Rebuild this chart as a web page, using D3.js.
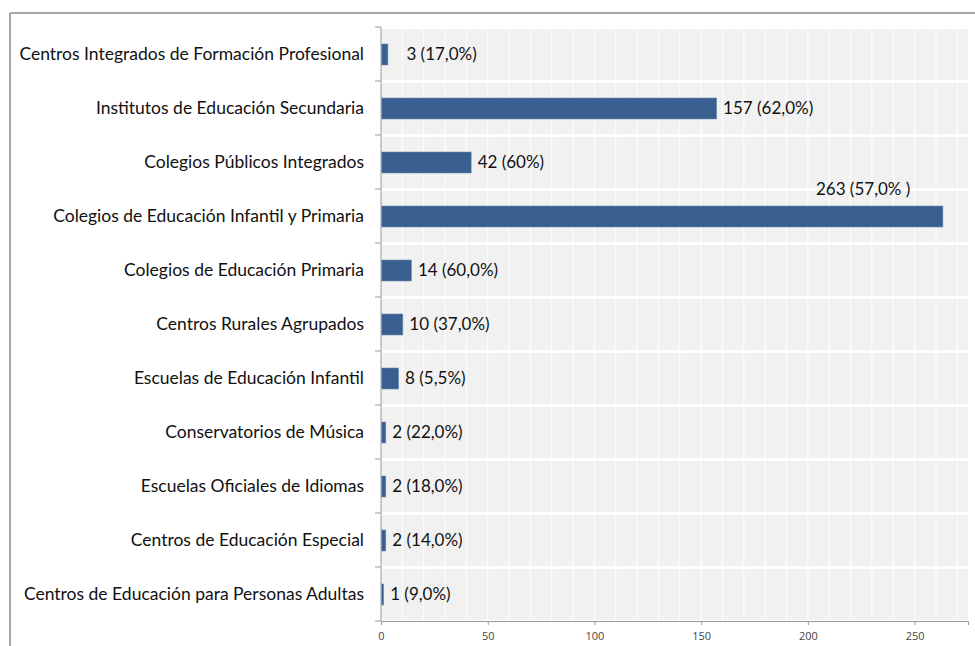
<!DOCTYPE html>
<html>
<head>
<meta charset="utf-8">
<script src="https://cdn.jsdelivr.net/npm/d3@7"></script>
<style>
body { margin: 0; background: #fff; }
svg { display: block; }
</style>
</head>
<body>
<svg id="chart" width="975" height="646"></svg>
<script>

// categories, top to bottom
var categories = [
    'Centros Integrados de Formación Profesional',
    'Institutos de Educación Secundaria',
    'Colegios Públicos Integrados',
    'Colegios de Educación Infantil y Primaria',
    'Colegios de Educación Primaria',
    'Centros Rurales Agrupados',
    'Escuelas de Educación Infantil',
    'Conservatorios de Música',
    'Escuelas Oficiales de Idiomas',
    'Centros de Educación Especial',
    'Centros de Educación para Personas Adultas'
]
var values = [3, 157, 42, 263, 14, 10, 8, 2, 2, 2, 1]
var valueLabels = [
    '3 (17,0%)', '157 (62,0%)', '42 (60%)', '263 (57,0% )', '14 (60,0%)',
    '10 (37,0%)', '8 (5,5%)', '2 (22,0%)', '2 (18,0%)', '2 (14,0%)', '1 (9,0%)'
]
var xTicks = [0, 50, 100, 150, 200, 250]

var svg = d3.select('#chart')
var font = "'Lato', 'Open Sans', sans-serif"

// frame lines
svg.append('line').attr('x1', 10).attr('x2', 975).attr('y1', 13).attr('y2', 13)
    .style('stroke', '#8a8a8a').style('stroke-width', 1.5)
svg.append('line').attr('x1', 10).attr('x2', 10).attr('y1', 13).attr('y2', 646)
    .style('stroke', '#8a8a8a').style('stroke-width', 1.5)

var x = d3.scaleLinear().domain([0, 275]).range([381, 968])
var y = d3.scaleBand().domain(categories).range([27, 621])

// gray row backgrounds
svg.selectAll('.row')
    .data(categories)
    .enter().append('rect')
    .attr('x', x(0))
    .attr('y', function(d) { return y(d) + 2; })
    .attr('width', x(275) - x(0))
    .attr('height', y.bandwidth() - 3)
    .style('fill', '#f1f1f1')

// white vertical grid lines every 10
svg.selectAll('.grid')
    .data(d3.range(10, 280, 10))
    .enter().append('line')
    .attr('x1', function(d) { return x(d); })
    .attr('x2', function(d) { return x(d); })
    .attr('y1', 27).attr('y2', 621)
    .style('stroke', '#fff').style('stroke-width', 1)

// bars
svg.selectAll('.bar')
    .data(values)
    .enter().append('rect')
    .attr('x', x(0) + 0.5)
    .attr('y', function(d, i) { return y(categories[i]) + y.bandwidth() / 2 - 10; })
    .attr('width', function(d) { return x(d) - x(0); })
    .attr('height', 21)
    .style('fill', '#385f8f')
    .style('stroke', '#6f8db0')
    .style('stroke-width', 0.6)

// value labels (the big one sits above its bar, the first one is pushed out a bit)
svg.selectAll('.vlab')
    .data(values)
    .enter().append('text')
    .attr('x', function(d, i) {
        if (i == 3) return x(d) - 32;
        return x(d) + (i == 0 ? 19 : 7);
    })
    .attr('y', function(d, i) { return i == 3 ? y(categories[i]) + 6 : y(categories[i]) + y.bandwidth() / 2 + 6; })
    .attr('text-anchor', function(d, i) { return i == 3 ? 'end' : 'start'; })
    .style('font-family', font)
    .style('font-size', '17px')
    .style('fill', '#111')
    .text(function(d, i) { return valueLabels[i]; })

// category labels
svg.selectAll('.clab')
    .data(categories)
    .enter().append('text')
    .attr('x', 364)
    .attr('y', function(d) { return y(d) + y.bandwidth() / 2 + 6; })
    .attr('text-anchor', 'end')
    .style('font-family', font)
    .style('font-size', '17.5px')
    .style('fill', '#111')
    .text(function(d) { return d; })

// left axis with ticks at band edges
svg.append('line').attr('x1', x(0)).attr('x2', x(0)).attr('y1', 27).attr('y2', 621)
    .style('stroke', '#999')
svg.selectAll('.ytick')
    .data(d3.range(0, categories.length + 1))
    .enter().append('line')
    .attr('x1', x(0) - 6).attr('x2', x(0))
    .attr('y1', function(d) { return 27 + d * y.step(); })
    .attr('y2', function(d) { return 27 + d * y.step(); })
    .style('stroke', '#999')

// bottom axis
var xAxis = d3.axisBottom(x).tickValues(xTicks).tickSize(4).tickPadding(7)
var gx = svg.append('g').attr('transform', 'translate(0,621)').call(xAxis)
gx.select('.domain').style('stroke', '#999')
gx.selectAll('line').style('stroke', '#999')
gx.selectAll('text')
    .style('font-family', "'Open Sans', sans-serif")
    .style('font-size', '11px')
    .style('fill', '#444')

</script>
</body>
</html>
